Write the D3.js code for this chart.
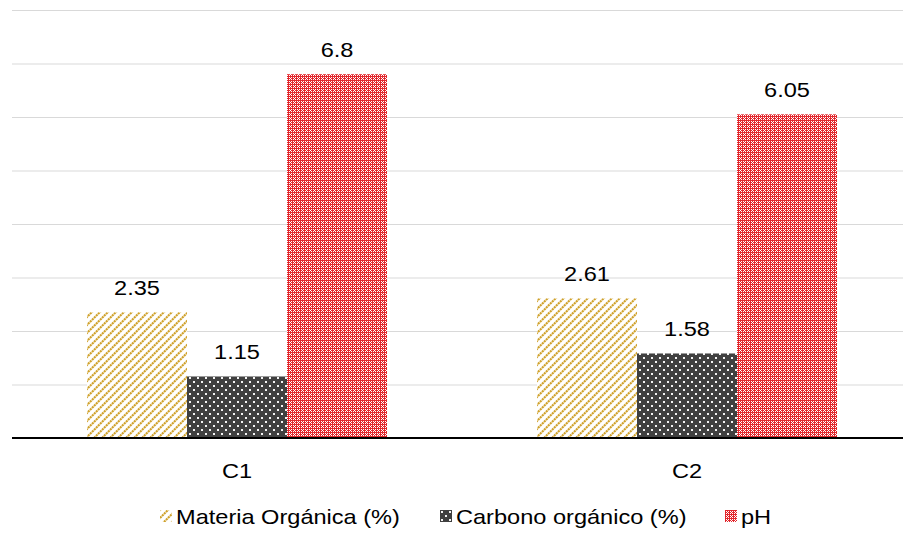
<!DOCTYPE html>
<html>
<head>
<meta charset="utf-8">
<script src="https://cdn.jsdelivr.net/npm/d3@7"></script>
<style>
  html, body { margin: 0; padding: 0; background: #fff; }
  svg { display: block; font-family: "Liberation Sans", Arial, sans-serif; }
</style>
</head>
<body>
<svg id="chart" width="903" height="534"></svg>
<script>
// Soil samples and measured properties
const categories = ["C1", "C2"];
const seriesNames = ["Materia Orgánica (%)", "Carbono orgánico (%)", "pH"];
const materiaOrganica = [2.35, 2.61];
const carbonoOrganico = [1.15, 1.58];
const pH = [6.8, 6.05];
const yTicks = [0, 1, 2, 3, 4, 5, 6, 7, 8];

const seriesValues = [materiaOrganica, carbonoOrganico, pH];

const svg = d3.select("#chart");
const W = 903, H = 534;
const plotBottom = 438;
const FONT = 20.5, STRETCH = 1.15;   // text is drawn slightly wide

// Fill patterns for each series
const defs = svg.append("defs");

// Wide upward diagonal stripes (gold)
const p1 = defs.append("pattern").attr("id", "pat-mo")
  .attr("patternUnits", "userSpaceOnUse").attr("width", 8).attr("height", 8);
p1.append("rect").attr("width", 8).attr("height", 8).attr("fill", "#fff");
p1.append("path")
  .attr("d", "M-2,2 L2,-2 M0,8 L8,0 M6,10 L10,6")
  .attr("stroke", "#CFA12A").attr("stroke-width", 2.1).attr("stroke-dasharray", "2.2,0.6");

// Dark grey with white dots
const p2 = defs.append("pattern").attr("id", "pat-co")
  .attr("patternUnits", "userSpaceOnUse").attr("width", 8).attr("height", 8);
p2.append("rect").attr("width", 8).attr("height", 8).attr("fill", "#404040");
p2.append("rect").attr("x", 1).attr("y", 1).attr("width", 2).attr("height", 2).attr("fill", "#f4f4f4");
p2.append("rect").attr("x", 5).attr("y", 5).attr("width", 2).attr("height", 2).attr("fill", "#f4f4f4");

// Red plaid: solid red grid lines with small white/red checker cells between
const p3 = defs.append("pattern").attr("id", "pat-ph")
  .attr("patternUnits", "userSpaceOnUse").attr("width", 8).attr("height", 8);
p3.append("rect").attr("width", 8).attr("height", 8).attr("fill", "#E2262C");
[0, 4].forEach(ox => [0, 4].forEach(oy => {
  [[1,1],[3,1],[2,2],[1,3],[3,3]].forEach(([x, y]) => {
    p3.append("rect").attr("x", ox + x).attr("y", oy + y)
      .attr("width", 1).attr("height", 1).attr("fill", "#fff");
  });
}));

const fills = ["url(#pat-mo)", "url(#pat-co)", "url(#pat-ph)"];

// Scales: 450 px per category, three 100 px bars centred in each
const x0 = d3.scaleBand().domain(categories).range([12, 912]);
const x1 = d3.scaleBand().domain(seriesNames).range([75, 375]);
const y = d3.scaleLinear().domain([0, 8]).range([plotBottom, plotBottom - 8 * 53.5]);

// Shared text styling
function labelStyle(sel, anchor) {
  return sel.attr("font-size", FONT).attr("fill", "#000")
    .attr("text-anchor", anchor);
}

// Horizontal gridlines
const yAxis = d3.axisLeft(y).tickValues(yTicks).tickSize(-(W - 12)).tickFormat("");
const gGrid = svg.append("g").attr("transform", "translate(12,0)").call(yAxis);
gGrid.select(".domain").remove();
gGrid.selectAll(".tick line").attr("stroke", "#d9d9d9").attr("stroke-width", 1);

// Bars
const groups = svg.append("g").selectAll("g")
  .data(categories).join("g")
  .attr("transform", d => `translate(${x0(d)},0)`);

const rows = (d, i) => seriesNames.map((s, j) => ({ s, j, v: seriesValues[j][i] }));

groups.selectAll("rect")
  .data(rows)
  .join("rect")
  .attr("x", d => x1(d.s))
  .attr("width", x1.bandwidth())
  .attr("y", d => y(d.v))
  .attr("height", d => y(0) - y(d.v))
  .attr("fill", d => fills[d.j]);

// Value labels
groups.selectAll("text.val")
  .data(rows)
  .join("text")
  .attr("class", "val")
  .attr("transform", d => `translate(${x1(d.s) + x1.bandwidth() / 2},${y(d.v) - 17}) scale(${STRETCH},1)`)
  .call(labelStyle, "middle")
  .text(d => String(d.v));

// Category labels under the baseline
const xAxis = d3.axisBottom(x0).tickSize(0).tickFormat("");
const gX = svg.append("g").attr("transform", `translate(0,${plotBottom})`).call(xAxis);
gX.select(".domain").remove();
gX.selectAll(".tick").append("text")
  .attr("transform", `translate(0,40) scale(${STRETCH},1)`)
  .call(labelStyle, "middle")
  .text(d => d);

svg.append("line")
  .attr("x1", 12).attr("x2", W).attr("y1", y(0)).attr("y2", y(0))
  .attr("stroke", "#000").attr("stroke-width", 2);

// Legend
const legendX = [160, 440, 725];
const legend = svg.append("g").selectAll("g")
  .data(seriesNames).join("g")
  .attr("transform", (d, i) => `translate(${legendX[i]},510)`);
legend.append("rect").attr("width", 12).attr("height", 12).attr("fill", (d, i) => fills[i]);
legend.append("text")
  .attr("transform", `translate(16,13.5) scale(${STRETCH},1)`)
  .call(labelStyle, "start")
  .text(d => d);
</script>
</body>
</html>
